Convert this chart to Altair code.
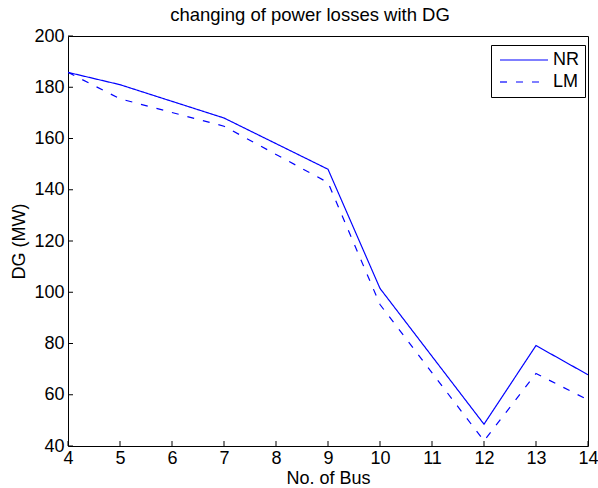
import altair as alt
import pandas as pd

# ---- data ----
buses = [4, 5, 7, 9, 10, 12, 13, 14]
nr_values = [185.8, 181.0, 168.0, 148.0, 101.5, 48.5, 79.2, 67.8]
lm_values = [185.8, 175.5, 164.8, 142.8, 95.2, 42.0, 68.3, 58.0]
series = ["NR", "LM"]
x_ticks = [4, 5, 6, 7, 8, 9, 10, 11, 12, 13, 14]
y_ticks = [40, 60, 80, 100, 120, 140, 160, 180, 200]

rows = []
for name, vals in zip(series, [nr_values, lm_values]):
    for b, v in zip(buses, vals):
        rows.append({"bus": b, "loss": v, "method": name})
df = pd.DataFrame(rows)
xt = pd.DataFrame({"v": x_ticks})
yt = pd.DataFrame({"v": y_ticks})

FONT = "Liberation Sans"
W, H = 520, 410
BLUE = "#0000ff"

xscale = alt.Scale(domain=[4, 14], nice=False, zero=False)
yscale = alt.Scale(domain=[40, 200], nice=False, zero=False)

xaxis = alt.Axis(values=x_ticks, title="No. of Bus", ticks=False, domain=False, grid=False,
                 labelFontSize=18, labelFont=FONT, labelColor="black", labelPadding=3,
                 labelFlush=False, labelOverlap=False, format="d",
                 titleFontSize=18, titleFont=FONT, titleFontWeight="normal", titleColor="black",
                 titlePadding=2)
yaxis = alt.Axis(values=y_ticks, title="DG (MW)", ticks=False, domain=False, grid=False,
                 labelFontSize=18, labelFont=FONT, labelColor="black", labelPadding=4,
                 labelFlush=False, labelOverlap=False, format="d",
                 titleFontSize=18, titleFont=FONT, titleFontWeight="normal", titleColor="black",
                 titlePadding=5)

xticks = alt.Chart(xt).mark_rule(color="black", strokeWidth=1).encode(
    x=alt.X("v:Q", scale=xscale, axis=xaxis),
    y=alt.value(H), y2=alt.value(H - 5),
)
yticks = alt.Chart(yt).mark_rule(color="black", strokeWidth=1).encode(
    y=alt.Y("v:Q", scale=yscale, axis=yaxis),
    x=alt.value(0), x2=alt.value(5),
)

lines = alt.Chart(df).mark_line(strokeWidth=1.2, clip=True).encode(
    x=alt.X("bus:Q", scale=xscale, axis=xaxis),
    y=alt.Y("loss:Q", scale=yscale, axis=yaxis),
    color=alt.Color("method:N", title=None,
                    scale=alt.Scale(domain=series, range=[BLUE, BLUE]),
                    legend=alt.Legend(orient="none", legendX=423, legendY=9)),
    strokeDash=alt.StrokeDash("method:N", title=None,
                              scale=alt.Scale(domain=series, range=[[1, 0], [7, 9]]),
                              legend=alt.Legend(orient="none", legendX=423, legendY=9)),
)

chart = alt.layer(xticks, yticks, lines).properties(
    width=W, height=H,
    autosize=alt.AutoSizeParams(type="none"),
    padding={"left": 68, "top": 36, "right": 10, "bottom": 42},
    title=alt.TitleParams("changing of power losses with DG", fontSize=18.5, font=FONT,
                          fontWeight="normal", color="black", baseline="alphabetic",
                          offset=11, dx=-18, dy=23, frame="group", anchor="middle"),
    background="white",
).configure_view(
    stroke="black", strokeWidth=1
).configure_legend(
    padding=6, strokeColor="black", fillColor="white", symbolType="M-1,0H7",
    symbolSize=144, symbolStrokeWidth=1.2, labelFontSize=18, labelFont=FONT,
    labelColor="black", labelOffset=38, rowPadding=4, cornerRadius=0,
)

chart.save("out.html", embed_options={"renderer": "svg", "actions": False})
